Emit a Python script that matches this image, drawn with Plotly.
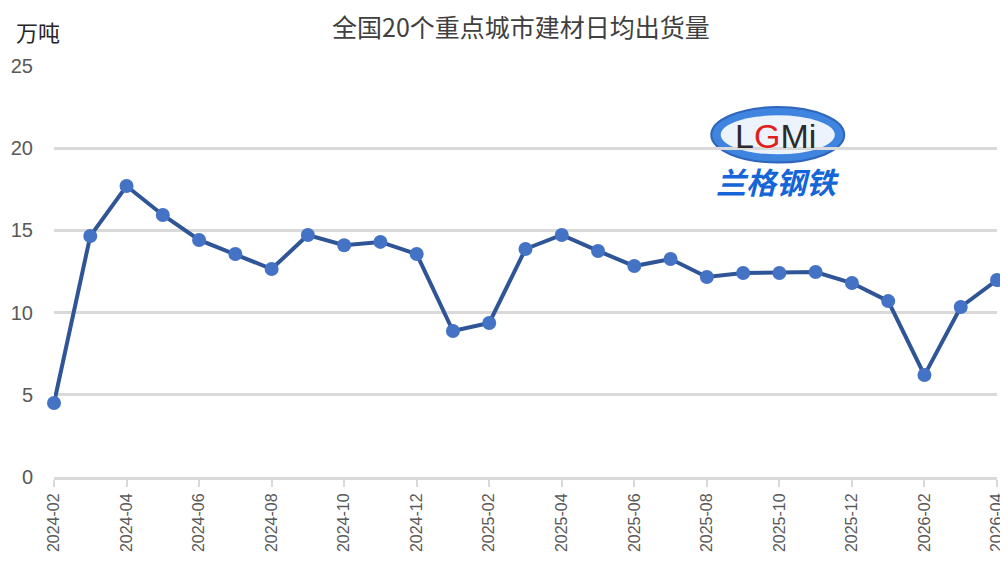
import plotly.graph_objects as go

months = ["2024-02","2024-03","2024-04","2024-05","2024-06","2024-07","2024-08","2024-09",
          "2024-10","2024-11","2024-12","2025-01","2025-02","2025-03","2025-04","2025-05",
          "2025-06","2025-07","2025-08","2025-09","2025-10","2025-11","2025-12","2026-01",
          "2026-02","2026-03","2026-04"]
values = [4.5, 14.66, 17.7, 15.94, 14.42, 13.56, 12.65, 14.72, 14.1, 14.3, 13.56, 8.88, 9.37,
          13.87, 14.72, 13.75, 12.83, 13.26, 12.17, 12.41, 12.41, 12.47, 11.8, 10.7, 6.2,
          10.34, 11.98]
tick_labels = months[::2]
title = "全国20个重点城市建材日均出货量"
unit = "万吨"

fig = go.Figure()
fig.add_trace(go.Scatter(
    x=months, y=values, mode="lines+markers",
    line=dict(color="#2F5597", width=4),
    marker=dict(color="#4472C4", size=14),
    cliponaxis=False, showlegend=False,
))

fig.update_layout(
    width=1000, height=569,
    margin=dict(l=46, r=11, t=58, b=100, autoexpand=False),
    plot_bgcolor="white", paper_bgcolor="white",
    font=dict(family="Noto Sans CJK SC, Noto Sans, sans-serif", color="#595959"),
    title=dict(text=title, x=0.513, xanchor="center", y=0.965, yanchor="middle",
               font=dict(size=25, color="#404040")),
    xaxis=dict(type="category", range=[0, len(months) - 1],
               tickmode="array", tickvals=tick_labels, ticktext=tick_labels,
               tickangle=-90, ticks="outside", ticklen=7, tickwidth=2, tickcolor="#D9D9D9",
               showgrid=False, showline=True, linecolor="#D9D9D9", linewidth=3,
               tickfont=dict(size=16, color="#595959", family="Liberation Sans, Arial")),
    yaxis=dict(range=[0, 25], tickvals=[0, 5, 10, 15, 20, 25],
               showgrid=True, gridcolor="#D9D9D9", gridwidth=3,
               zeroline=False, showline=False, ticks="", ticklabelstandoff=20,
               tickfont=dict(size=20, color="#595959", family="Liberation Sans Narrow, Liberation Sans")),
    annotations=[
        dict(text=unit, xref="paper", yref="paper", x=-0.042, y=1.084, xanchor="left",
             yanchor="middle", showarrow=False, font=dict(size=22, color="#262626")),
        dict(text="L<span style='color:#E0201B'>G</span>Mi", xref="paper", yref="paper",
             x=0.765, y=0.83, xanchor="center", yanchor="middle", showarrow=False,
             font=dict(size=34, color="#2B2B2B", family="Liberation Sans")),
        dict(text="<b><i>兰格钢铁</i></b>", xref="paper", yref="paper",
             x=0.768, y=0.72, xanchor="center", yanchor="middle", showarrow=False,
             font=dict(size=30, color="#1565D8")),
    ],
    shapes=[
        dict(type="circle", xref="paper", yref="paper", x0=0.697, x1=0.838, y0=0.765, y1=0.9,
             fillcolor="#1E6FD9", line=dict(color="#0B4BB0", width=2), opacity=0.85,
             layer="below"),
        dict(type="circle", xref="paper", yref="paper", x0=0.707, x1=0.828, y0=0.785, y1=0.88,
             fillcolor="#FFFFFF", line=dict(width=0), opacity=0.9, layer="below"),
    ],
)

fig.write_html("out.html")
